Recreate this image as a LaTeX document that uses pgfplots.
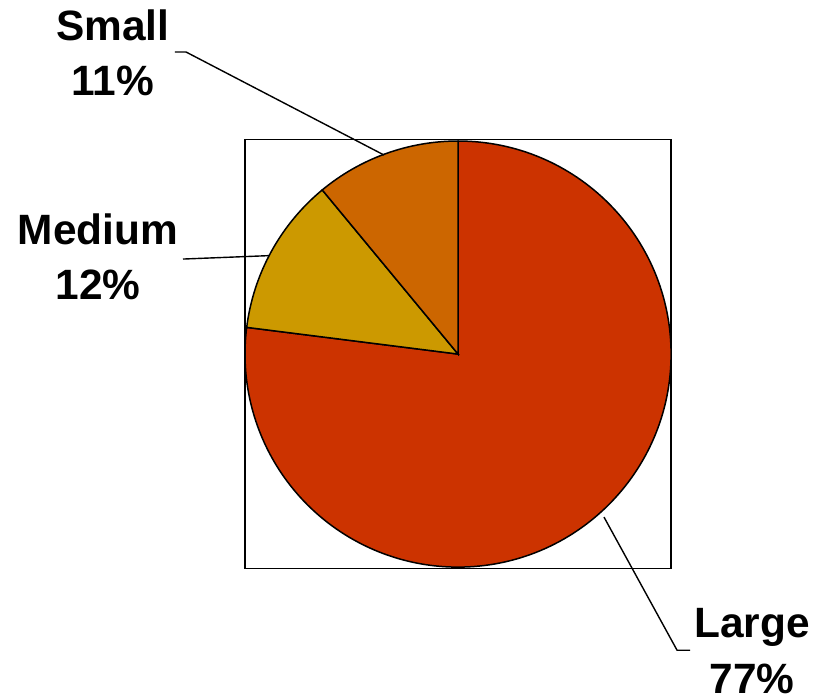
\documentclass[border=0pt]{standalone}
\usepackage{pgfplots}
\pgfplotsset{compat=1.18}
\usepackage{fontspec}
\setmainfont{Liberation Sans}
\definecolor{cLarge}{HTML}{CC3300}
\definecolor{cMedium}{HTML}{CC9900}
\definecolor{cSmall}{HTML}{CC6600}
% values (percent)
\def\vLarge{77}
\def\vMedium{12}
\def\vSmall{11}
\begin{document}
\begin{tikzpicture}
\pgfmathsetmacro{\aA}{90}
\pgfmathsetmacro{\aB}{90-3.6*\vLarge}
\pgfmathsetmacro{\aC}{\aB-3.6*\vMedium}
\pgfmathsetmacro{\aD}{\aC-3.6*\vSmall}
\pgfmathsetmacro{\xA}{cos(\aA)}\pgfmathsetmacro{\yA}{sin(\aA)}
\pgfmathsetmacro{\xB}{cos(\aB)}\pgfmathsetmacro{\yB}{sin(\aB)}
\pgfmathsetmacro{\xC}{cos(\aC)}\pgfmathsetmacro{\yC}{sin(\aC)}
\begin{axis}[
  x=106.5pt, y=106.5pt,
  xmin=-1, xmax=1, ymin=-1.007, ymax=1.007,
  scale only axis,
  xtick=\empty, ytick=\empty,
  axis line style={line width=0.75pt},
  clip=false,
  font=\bfseries\fontsize{21.2}{25}\selectfont,
]
\addplot[draw=none] coordinates {(0,0)};
\filldraw[fill=cLarge, line width=0.75pt] (axis cs:0,0) -- (axis cs:\xA,\yA) arc[start angle=\aA, end angle=\aB, radius=106.5pt] -- cycle;
\filldraw[fill=cMedium, line width=0.75pt] (axis cs:0,0) -- (axis cs:\xB,\yB) arc[start angle=\aB, end angle=\aC, radius=106.5pt] -- cycle;
\filldraw[fill=cSmall, line width=0.75pt] (axis cs:0,0) -- (axis cs:\xC,\yC) arc[start angle=\aC, end angle=\aD, radius=106.5pt] -- cycle;
% leader lines
\draw[line width=0.7pt] (axis cs:-1.329,1.418) -- (axis cs:-1.277,1.418) -- (axis cs:-0.347,0.934);
\draw[line width=0.7pt] (axis cs:-1.291,0.446) -- (axis cs:-0.888,0.462);
\draw[line width=0.7pt] (axis cs:0.685,-0.765) -- (axis cs:1.028,-1.390) -- (axis cs:1.089,-1.390);
% labels
\node[anchor=base] at (axis cs:-1.620,1.474) {Small};
\node[anchor=base] at (axis cs:-1.620,1.216) {11\%};
\node[anchor=base] at (axis cs:-1.690,0.512) {Medium};
\node[anchor=base] at (axis cs:-1.690,0.254) {12\%};
\node[anchor=base] at (axis cs:1.380,-1.329) {Large};
\node[anchor=base] at (axis cs:1.380,-1.592) {77\%};
\coordinate (TL) at (axis cs:-2.150,1.662);
\coordinate (BR) at (axis cs:1.746,-1.601);
\end{axis}
\pgfresetboundingbox
\path[use as bounding box] (TL) rectangle (BR);
\end{tikzpicture}
\end{document}
